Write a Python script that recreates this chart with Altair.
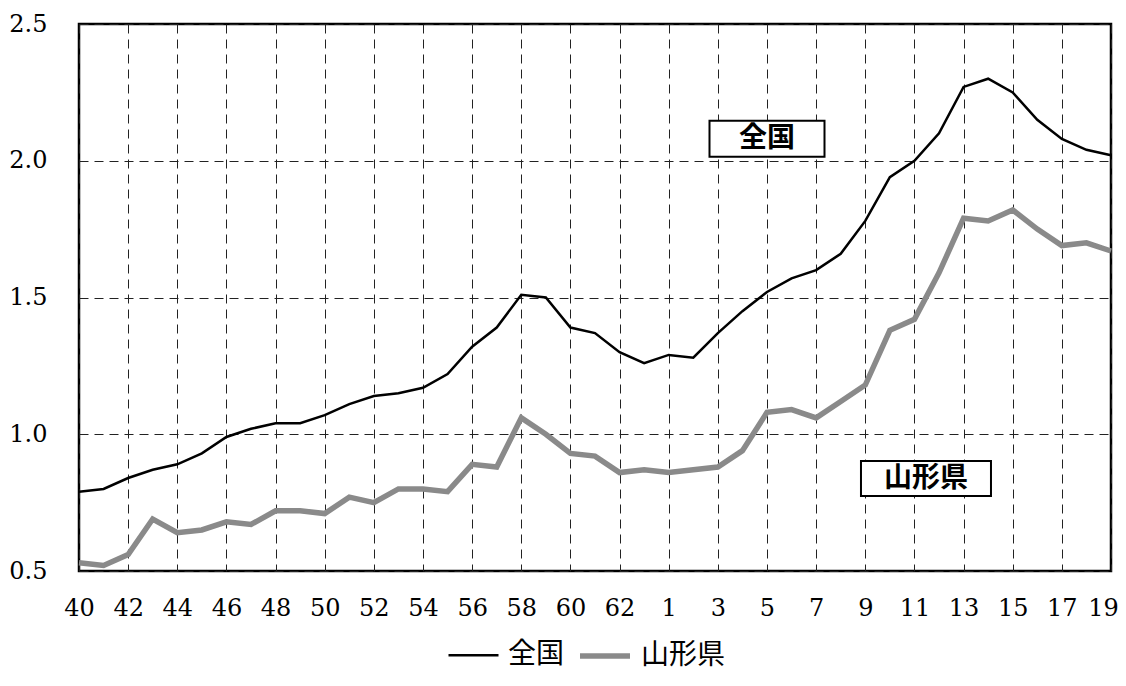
import altair as alt
import pandas as pd

x_labels = ["40", "41", "42", "43", "44", "45", "46", "47", "48", "49",
            "50", "51", "52", "53", "54", "55", "56", "57", "58", "59",
            "60", "61", "62", "63", "1", "2", "3", "4", "5", "6",
            "7", "8", "9", "10", "11", "12", "13", "14", "15", "16",
            "17", "18", "19"]

national = [0.79, 0.80, 0.84, 0.87, 0.89, 0.93, 0.99, 1.02, 1.04, 1.04,
            1.07, 1.11, 1.14, 1.15, 1.17, 1.22, 1.32, 1.39, 1.51, 1.50,
            1.39, 1.37, 1.30, 1.26, 1.29, 1.28, 1.37, 1.45, 1.52, 1.57,
            1.60, 1.66, 1.78, 1.94, 2.00, 2.10, 2.27, 2.30, 2.25, 2.15,
            2.08, 2.04, 2.02]

yamagata = [0.53, 0.52, 0.56, 0.69, 0.64, 0.65, 0.68, 0.67, 0.72, 0.72,
            0.71, 0.77, 0.75, 0.80, 0.80, 0.79, 0.89, 0.88, 1.06, 1.00,
            0.93, 0.92, 0.86, 0.87, 0.86, 0.87, 0.88, 0.94, 1.08, 1.09,
            1.06, 1.12, 1.18, 1.38, 1.42, 1.59, 1.79, 1.78, 1.82, 1.75,
            1.69, 1.70, 1.67]

series_names = ["全国", "山形県"]
y_ticks = [0.5, 1.0, 1.5, 2.0, 2.5]

anno_text = ["全国", "山形県"]
anno_x = [28.0, 34.47]
anno_y = [2.08, 0.838]

rows = []
for i, (a, b) in enumerate(zip(national, yamagata)):
    rows.append({"idx": i, "series": series_names[0], "value": a, "ord": 0})
    rows.append({"idx": i, "series": series_names[1], "value": b, "ord": 1})
df = pd.DataFrame(rows)
anno_df = pd.DataFrame({"text": anno_text, "x": anno_x, "y": anno_y})

arr = "[" + ",".join(f"'{s}'" for s in x_labels) + "]"
label_expr = f"datum.value % 2 == 0 ? {arr}[datum.value] : ''"

n = len(x_labels)
xscale = alt.Scale(domain=[0, n - 1], nice=False, zero=False)
yscale = alt.Scale(domain=[0.5, 2.5], nice=False, zero=False)

xaxis = alt.Axis(values=list(range(n)), labelExpr=label_expr, title=None,
                 grid=True, gridDash=[9, 6], gridColor="#222", gridWidth=1,
                 tickSize=0, domain=False, labelFont="DejaVu Serif",
                 labelFontSize=24, labelColor="black", labelPadding=25,
                 labelOverlap=False, labelFlush=False,
                 labelOffset={"condition": {"test": f"datum.value == {n - 1}", "value": -8}, "value": 0})
yaxis = alt.Axis(values=y_ticks, format=".1f", title=None,
                 grid=True, gridDash=[9, 6], gridColor="#222", gridWidth=1,
                 tickSize=0, domain=False, labelFont="DejaVu Serif",
                 labelFontSize=24, labelColor="black", labelPadding=32)

leg = alt.Legend(title=None, orient="none", legendX=368, legendY=604,
                 direction="horizontal", symbolType="stroke", symbolSize=2500,
                 labelFont="Noto Sans CJK JP", labelFontSize=28,
                 labelColor="black", labelOffset=8, columnPadding=4)

lines = alt.Chart(df).mark_line().encode(
    x=alt.X("idx:Q", scale=xscale, axis=xaxis),
    y=alt.Y("value:Q", scale=yscale, axis=yaxis),
    color=alt.Color("series:N", scale=alt.Scale(domain=series_names, range=["black", "#8a8a8a"]), legend=leg),
    strokeWidth=alt.StrokeWidth("series:N", scale=alt.Scale(domain=series_names, range=[2.5, 5.5]), legend=leg),
    order="ord:Q",
)

box1 = alt.Chart(anno_df.iloc[[0]]).mark_point(
    shape="M-1,-0.313L1,-0.313L1,0.313L-1,0.313Z", size=13225,
    filled=True, fill="white", stroke="black", strokeWidth=2, opacity=1,
).encode(x=alt.X("x:Q", scale=xscale), y=alt.Y("y:Q", scale=yscale))

box2 = alt.Chart(anno_df.iloc[[1]]).mark_point(
    shape="M-1,-0.269L1,-0.269L1,0.269L-1,0.269Z", size=16900,
    filled=True, fill="white", stroke="black", strokeWidth=2, opacity=1,
).encode(x=alt.X("x:Q", scale=xscale), y=alt.Y("y:Q", scale=yscale))

texts = alt.Chart(anno_df).mark_text(
    font="Noto Sans CJK JP", fontSize=28, fontWeight="bold", color="black",
    align="center", baseline="middle",
).encode(x=alt.X("x:Q", scale=xscale), y=alt.Y("y:Q", scale=yscale), text="text:N")

chart = alt.layer(lines, box1, box2, texts).properties(
    width=1032, height=547,
    autosize=alt.AutoSizeParams(type="none"),
    padding={"left": 71, "top": 16, "right": 7, "bottom": 107},
    background="white",
).configure_view(stroke="black", strokeWidth=2.5)

chart.save("out.html", embed_options={"renderer": "svg", "actions": False})
